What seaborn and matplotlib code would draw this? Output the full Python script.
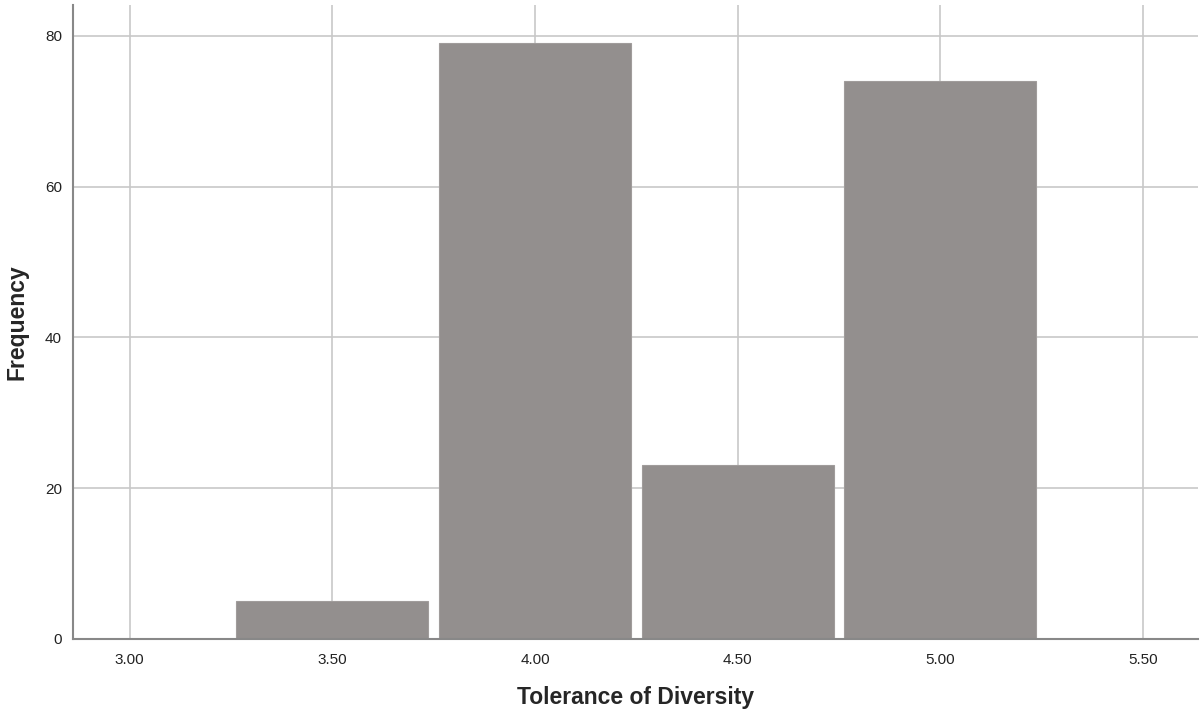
import matplotlib
matplotlib.use("Agg")
from matplotlib import pyplot as plt
import seaborn as sns

# histogram data
scores = [3.5, 4.0, 4.5, 5.0]
counts = [5, 79, 23, 74]
bin_edges = [3.25, 3.75, 4.25, 4.75, 5.25]
x_ticks = [3.0, 3.5, 4.0, 4.5, 5.0, 5.5]
x_tick_labels = ["3.00", "3.50", "4.00", "4.50", "5.00", "5.50"]
y_ticks = [0, 20, 40, 60, 80]

sns.set_style("white")
plt.rcParams["font.family"] = ["Liberation Sans", "DejaVu Sans"]

fig = plt.figure(figsize=(12.01, 7.13), dpi=100)
ax = fig.add_axes([0.0608, 0.1042, 0.9367, 0.8888])

ax.grid(True, color="#c8c8c8", linewidth=1.2, zorder=0)
ax.set_axisbelow(True)

sns.histplot(x=scores, weights=counts, bins=bin_edges, shrink=0.947,
             color="#938f8e", edgecolor="#a09c9b", linewidth=0.8,
             alpha=1, ax=ax, zorder=2)

ax.set_xlim(2.86, 5.636)
ax.set_ylim(0, 84.1)
ax.set_xticks(x_ticks)
ax.set_xticklabels(x_tick_labels)
ax.set_yticks(y_ticks)
ax.tick_params(axis="both", length=0, labelsize=11, colors="#222222")
ax.tick_params(axis="x", pad=10)
ax.tick_params(axis="y", pad=8)

sns.despine(ax=ax, top=True, right=True)
for side in ["left", "bottom"]:
    ax.spines[side].set_color("#888888")
    ax.spines[side].set_linewidth(1.5)

ax.set_xlabel("Tolerance of Diversity", fontsize=16.5, fontweight="bold", labelpad=14)
ax.set_ylabel("Frequency", fontsize=16.5, fontweight="bold", labelpad=12)

fig.savefig("out.png", dpi=100)
